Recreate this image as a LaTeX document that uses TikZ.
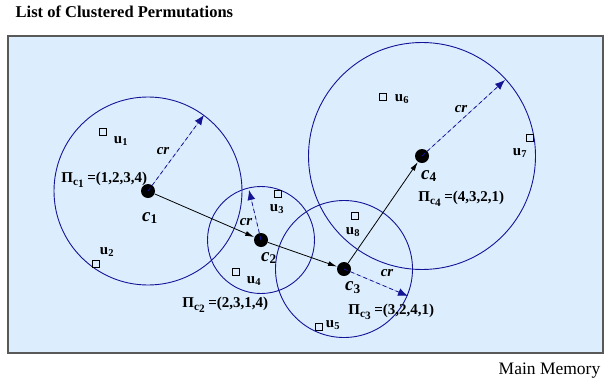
\documentclass[tikz,border=0pt]{standalone}
\usepackage{fontspec}
\setmainfont{Liberation Serif}
\usetikzlibrary{arrows.meta}
\definecolor{memfill}{RGB}{220,238,254}
\definecolor{clblue}{RGB}{20,20,150}
\newcommand{\psub}[1]{\raisebox{-0.5ex}{\scalebox{0.75}{c\raisebox{-0.4ex}{#1}}}}

\begin{document}
\begin{tikzpicture}[x=1pt,y=-1pt,line width=0.8pt,>={Latex[length=9pt,width=5pt]},
  dot/.style={circle,fill=black,inner sep=0pt,minimum size=14pt},
  ring/.style={circle,draw=clblue,line width=0.9pt,inner sep=0pt},
  obj/.style={draw=black,line width=0.6pt,inner sep=0pt,minimum size=6.5pt},
  lab/.style={font=\fontsize{15}{15}\selectfont\bfseries,inner sep=1pt},
  cen/.style={font=\fontsize{19}{19}\selectfont\bfseries\itshape,inner sep=1pt},
  radius arrow/.style={dashed,dash pattern=on 4pt off 3pt,draw=clblue,line width=0.8pt,
    -{Latex[length=10pt,width=8pt]},fill=clblue}]
  \useasboundingbox (0,0) rectangle (604,383);
  % memory frame
  \draw[fill=memfill,draw=black!65,line width=1.2pt] (8,36) rectangle (603,353);
  \node[anchor=west,font=\fontsize{16.5}{16.5}\selectfont\bfseries] (title) at (12,12) {List of Clustered Permutations};
  \node[anchor=base east,font=\fontsize{17.5}{17.5}\selectfont] (mem) at (604,374) {Main Memory};
  % cluster rings
  \node[ring,minimum size=188pt] (r1) at (148,191) {};
  \node[ring,minimum size=107pt] (r2) at (261,240) {};
  \node[ring,minimum size=137pt] (r3) at (344,269) {};
  \node[ring,minimum size=227pt] (r4) at (422,156) {};
  % cluster centres
  \node[dot] (c1) at (148,191) {};
  \node[dot] (c2) at (261,240) {};
  \node[dot] (c3) at (344,269) {};
  \node[dot] (c4) at (422,156) {};
  \node[cen] (l1) at (150,218) {c\textsubscript{\upshape 1}};
  \node[cen] (l2) at (269,258) {c\textsubscript{\upshape 2}};
  \node[cen] (l3) at (353,288) {c\textsubscript{\upshape 3}};
  \node[cen] (l4) at (429,176) {c\textsubscript{\upshape 4}};
  % permutations
  \node[lab,anchor=west] (p1) at (60,180) {Π\psub{1} =(1,2,3,4)};
  \node[lab,anchor=west] (p2) at (181,305) {Π\psub{2} =(2,3,1,4)};
  \node[lab,anchor=west] (p3) at (347,312) {Π\psub{3} =(3,2,4,1)};
  \node[lab,anchor=west] (p4) at (417,199) {Π\psub{4} =(4,3,2,1)};
  % objects
  \node[obj] (u1) at (103,132) {};
  \node[obj] (u2) at (96,264) {};
  \node[obj] (u3) at (278,194) {};
  \node[obj] (u4) at (236,272) {};
  \node[obj] (u5) at (319,327) {};
  \node[obj] (u6) at (383,97) {};
  \node[obj] (u7) at (530,138) {};
  \node[obj] (u8) at (355,216) {};
  \node[lab] (lu1) at (121,141) {u\textsubscript{1}};
  \node[lab] (lu2) at (107,252) {u\textsubscript{2}};
  \node[lab] (lu3) at (277,209) {u\textsubscript{3}};
  \node[lab] (lu4) at (254,281) {u\textsubscript{4}};
  \node[lab] (lu5) at (333,325) {u\textsubscript{5}};
  \node[lab] (lu6) at (402,99) {u\textsubscript{6}};
  \node[lab] (lu7) at (520,153) {u\textsubscript{7}};
  \node[lab] (lu8) at (353,232) {u\textsubscript{8}};
  % cluster radius
  \coordinate (t1) at (204,115);
  \coordinate (t2) at (249,190);
  \coordinate (t3) at (408,296);
  \coordinate (t4) at (505,80);
  \draw[radius arrow] (c1.center) -- (t1);
  \draw[radius arrow] (c2.center) -- (t2);
  \draw[radius arrow] (c3.center) -- (t3);
  \draw[radius arrow] (c4.center) -- (t4);
  \node[lab,font=\fontsize{15}{15}\selectfont\bfseries\itshape] (cr1) at (163,151) {cr};
  \node[lab,font=\fontsize{15}{15}\selectfont\bfseries\itshape] (cr2) at (246,222) {cr};
  \node[lab,font=\fontsize{15}{15}\selectfont\bfseries\itshape] (cr3) at (387,273) {cr};
  \node[lab,font=\fontsize{15}{15}\selectfont\bfseries\itshape] (cr4) at (461,109) {cr};
  % links between centres
  \draw[->] (c1) -- (c2);
  \draw[->] (c2) -- (c3);
  \draw[->] (c3) -- (c4);
\end{tikzpicture}
\end{document}
